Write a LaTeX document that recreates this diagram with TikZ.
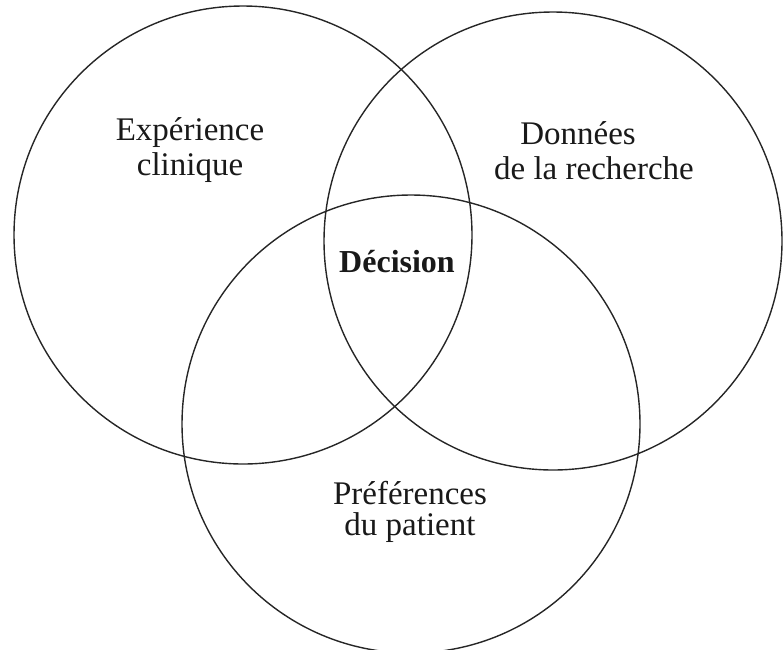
\documentclass[tikz,border=0pt]{standalone}
\usepackage{fontspec}
\setmainfont{Liberation Serif}
\begin{document}
\begin{tikzpicture}[x=1pt,y=-1pt,
  venn/.style={draw=black!85,line width=1.4pt},
  lbl/.style={font=\fontsize{33}{38}\selectfont,align=center,text=black!90,inner sep=0pt}]
\useasboundingbox (0,0) rectangle (784,649);
\draw[venn] (243,235) circle[radius=229];
\draw[venn] (553,241) circle[radius=229];
\draw[venn] (411,424) circle[radius=229];
\node[lbl] (exp) at (190,133) {Expérience};
\node[lbl] (cli) at (190,168) {clinique};
\node[lbl] (don) at (578,133) {Données};
\node[lbl] (rec) at (594,168) {de la recherche};
\node[lbl,font=\fontsize{32}{38}\selectfont\bfseries] (dec) at (397,262) {Décision};
\node[lbl] (pre) at (410,493) {Préférences};
\node[lbl] (pat) at (410,528) {du patient};
\end{tikzpicture}
\end{document}
